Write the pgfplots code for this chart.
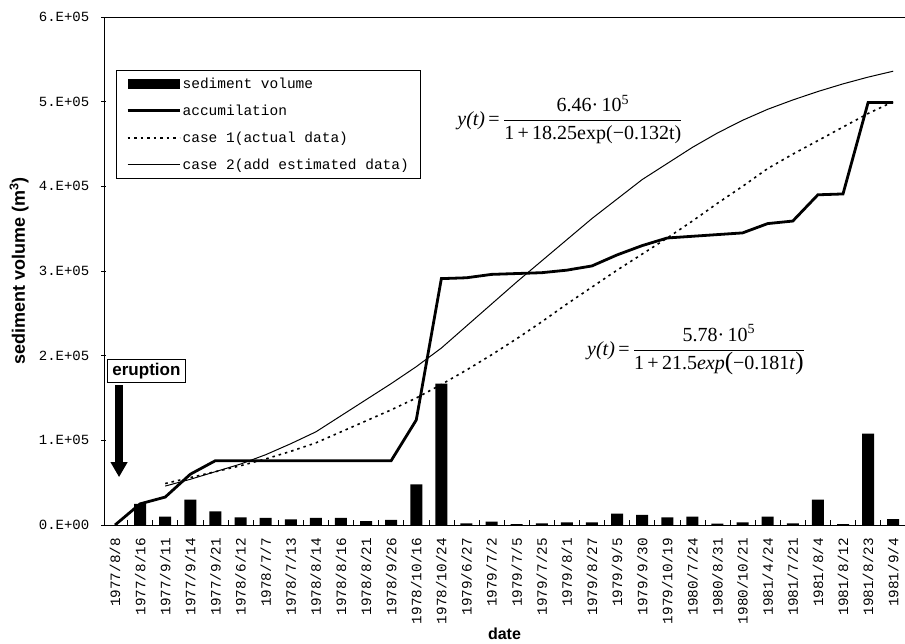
\documentclass[border=0pt]{standalone}
\usepackage{pgfplots}
\pgfplotsset{compat=1.18}
\usetikzlibrary{arrows.meta}
\usepackage{fontspec}
\setmainfont{Liberation Mono}
\newfontfamily\sansf{Liberation Sans}
\newfontfamily\serff{Liberation Serif}
\pgfplotsset{
  lineleg/.style={legend image code/.code={\draw[##1] (0pt,0pt) -- (52pt,0pt);}},
  barleg/.style={legend image code/.code={\fill[black] (0pt,-5pt) rectangle (52pt,5pt);}},
}

\begin{document}
\begin{tikzpicture}
\begin{axis}[
  scale only axis, width=801pt, height=508pt,
  xmin=-0.44, xmax=31.47, ymin=0, ymax=600000,
  clip=false,
  axis x line*=bottom, axis y line*=left,
  axis line style={line width=0.8pt,-},
  xtick={0,...,31},
  xticklabels={1977/8/8,1977/8/16,1977/9/11,1977/9/14,1977/9/21,1978/6/12,1978/7/7,1978/7/13,1978/8/14,1978/8/16,1978/8/21,1978/9/26,1978/10/16,1978/10/24,1979/6/27,1979/7/2,1979/7/5,1979/7/25,1979/8/1,1979/8/27,1979/9/5,1979/9/30,1979/10/19,1980/7/24,1980/8/31,1980/10/21,1981/4/24,1981/7/21,1981/8/4,1981/8/12,1981/8/23,1981/9/4},
  major x tick style={draw=none},
  minor xtick={-0.5,0.5,...,30.5},
  xtick align=inside,
  ytick align=center,
  major tick length=5pt, minor tick length=5pt,
  tick style={line width=0.6pt, black},
  xticklabel style={rotate=90, anchor=east, inner sep=0pt, font=\fontsize{14.3}{14}\selectfont},
  xticklabel shift=13pt,
  ytick={0,100000,200000,300000,400000,500000,600000},
  yticklabels={0.E+00,1.E+05,2.E+05,3.E+05,4.E+05,5.E+05,6.E+05},
  yticklabel style={anchor=east, inner sep=0pt, font=\fontsize{14}{14}\selectfont},
  yticklabel shift=12pt,
  scaled y ticks=false,
  ylabel={sediment volume (m\textsuperscript{3})},
  ylabel style={at={(axis description cs:-0.106,0.5)}, anchor=center, font=\sansf\bfseries\fontsize{18}{18}\selectfont},
  xlabel={date},
  xlabel style={at={(axis description cs:0.5,-0.2146)}, anchor=center, font=\sansf\bfseries\fontsize{16}{16}\selectfont},
  legend style={at={(0.015,0.8957)}, anchor=north west, draw=black, line width=0.6pt,
    font=\fontsize{14.5}{15}\selectfont, inner xsep=10pt, inner ysep=6pt, row sep=12pt,
    nodes={inner sep=1.5pt}},
  legend cell align=left,
]
\coordinate (o) at (rel axis cs:0,0);
\draw[line width=0.8pt] (rel axis cs:0,1) -- (rel axis cs:1,1);

\addplot[ybar, bar width=12pt, fill=black, draw=none, barleg]
coordinates {(1,25000)(2,10000)(3,30000)(4,16000)(5,9000)(6,8500)(7,6500)(8,8500)(9,8500)(10,4500)(11,6000)(12,48000)(13,167000)(14,2000)(15,4000)(16,1000)(17,2000)(18,3000)(19,3000)(20,13500)(21,12000)(22,9000)(23,10000)(24,1500)(25,3000)(26,10000)(27,2000)(28,30000)(29,1000)(30,108000)(31,7000)};
\addlegendentry{sediment volume}

\addplot[black, line width=2.8pt, sharp plot, lineleg]
coordinates {(0,0)(1,25000)(2,33000)(3,60000)(4,76000)(5,76000)(6,76000)(7,76000)(8,76000)(9,76000)(10,76000)(11,76000)(12,124000)(13,291000)(14,292000)(15,296000)(16,297000)(17,298000)(18,301000)(19,306000)(20,319000)(21,330000)(22,339000)(23,341000)(24,343000)(25,345000)(26,356000)(27,359000)(28,390000)(29,391000)(30,499000)(31,499000)};
\addlegendentry{accumilation}

\addplot[black, line width=1.6pt, dash pattern=on 2.5pt off 4pt, sharp plot, lineleg]
coordinates {(2,49000)(3,56000)(4,63000)(5,70000)(6,78000)(7,87000)(8,97000)(9,110000)(10,123000)(11,136000)(12,150000)(13,166000)(14,183000)(15,201000)(16,220000)(17,240000)(18,261000)(19,281000)(20,301000)(21,320000)(22,339000)(23,359000)(24,380000)(25,400000)(26,421000)(27,438000)(28,454000)(29,470000)(30,486000)(31,500000)};
\addlegendentry{case 1(actual data)}

\addplot[black, line width=1pt, sharp plot, lineleg]
coordinates {(2,46000)(3,54000)(4,63000)(5,72000)(6,83000)(7,96000)(8,110000)(9,129000)(10,148000)(11,167000)(12,187000)(13,209000)(14,235000)(15,261000)(16,287000)(17,312000)(18,337000)(19,362000)(20,385000)(21,408000)(22,427000)(23,446000)(24,463000)(25,478000)(26,491000)(27,502000)(28,512000)(29,521000)(30,529000)(31,536000)};
\addlegendentry{case 2(add estimated data)}

\node[draw=black, line width=0.8pt, fill=white, anchor=north west, inner xsep=5pt, inner ysep=4pt,
  font=\sansf\bfseries\fontsize{17}{17}\selectfont] at (axis cs:-0.32,196500) {eruption};
\draw[line width=8pt, -{Triangle[width=16pt,length=15pt]}] (axis cs:0.16,165000) -- (axis cs:0.16,56500);

\node[anchor=west, inner sep=0pt] at (axis cs:13.63,479000)
  {\serff\fontsize{20}{24}\selectfont\textit{y(t)}\,=\,$\displaystyle\frac{\mbox{6.46·\,10\textsuperscript{5}}}{\mbox{1\,+\,18.25exp(−0.132t)}}$};
\node[anchor=west, inner sep=0pt] at (axis cs:18.8,207000)
  {\serff\fontsize{20}{24}\selectfont\textit{y(t)}\,=\,$\displaystyle\frac{\mbox{5.78·\,10\textsuperscript{5}}}{\mbox{1\,+\,21.5\textit{exp}{\fontsize{25}{25}\selectfont(}−0.181\textit{t}{\fontsize{25}{25}\selectfont)}}}$};
\end{axis}
\pgfresetboundingbox
\path[use as bounding box] (o) ++(-104pt,-118pt) rectangle ++(905pt,643pt);
\end{tikzpicture}
\end{document}
